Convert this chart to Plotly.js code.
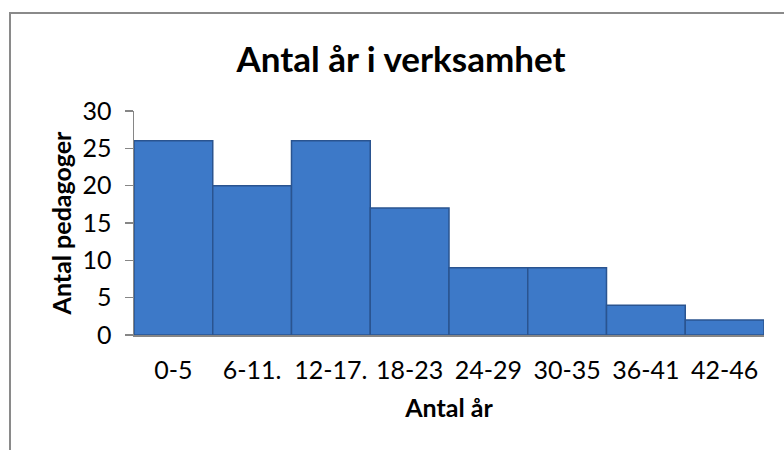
<!DOCTYPE html>
<html>
<head>
<meta charset="utf-8">
<script src="https://cdn.plot.ly/plotly-3.0.1.min.js"></script>
<style>
  html, body { margin: 0; padding: 0; width: 784px; height: 450px; overflow: hidden; background: #ffffff; }
  #frame { position: absolute; left: 9px; top: 12px; width: 900px; height: 600px; border: 2px solid #8a8a8a; box-sizing: border-box; pointer-events: none; z-index: 5; }
  #chart { position: absolute; left: 0; top: 0; width: 784px; height: 450px; }
</style>
</head>
<body>
<div id="chart"></div>
<div id="frame"></div>
<script>
const categories = ["0-5", "6-11.", "12-17.", "18-23", "24-29", "30-35", "36-41", "42-46"];
const counts = [26, 20, 26, 17, 9, 9, 4, 2];
const yTicks = [0, 5, 10, 15, 20, 25, 30];

const FONT = "Lato, 'Open Sans', sans-serif";

const trace = {
  type: "bar",
  x: categories,
  y: counts,
  marker: {
    color: "#3d79c8",
    line: { color: "#2a5490", width: 1.5 }
  },
  hoverinfo: "x+y"
};

const layout = {
  width: 784,
  height: 450,
  margin: { l: 134, r: 20, t: 111, b: 115 },
  paper_bgcolor: "#ffffff",
  plot_bgcolor: "#ffffff",
  bargap: 0,
  showlegend: false,
  font: { family: FONT, color: "#000000", size: 25 },
  title: {
    text: "<b>Antal år i verksamhet</b>",
    font: { family: FONT, size: 35, color: "#000000" },
    x: 401 / 784, xref: "container", xanchor: "center",
    y: 1 - 60 / 450, yref: "container", yanchor: "middle"
  },
  xaxis: {
    type: "category",
    showline: true,
    linecolor: "#868686",
    linewidth: 1.5,
    ticks: "",
    showgrid: false,
    zeroline: false,
    tickfont: { family: FONT, size: 25, color: "#000000" },
    ticklabelstandoff: 12,
    title: {
      text: "<b>Antal år</b>",
      font: { family: FONT, size: 25, color: "#000000" },
      standoff: 17
    }
  },
  yaxis: {
    range: [0, 30],
    tickvals: yTicks,
    ticktext: yTicks.map(String),
    showline: true,
    linecolor: "#868686",
    linewidth: 1.5,
    ticks: "outside",
    ticklen: 8,
    tickwidth: 1.5,
    tickcolor: "#868686",
    showgrid: false,
    zeroline: false,
    tickfont: { family: FONT, size: 25, color: "#000000" },
    ticklabelstandoff: 8,
    title: {
      text: "<b>Antal pedagoger</b>",
      font: { family: FONT, size: 25, color: "#000000" },
      standoff: 3
    }
  }
};

Plotly.newPlot("chart", [trace], layout, { displayModeBar: false, staticPlot: true });
</script>
</body>
</html>
